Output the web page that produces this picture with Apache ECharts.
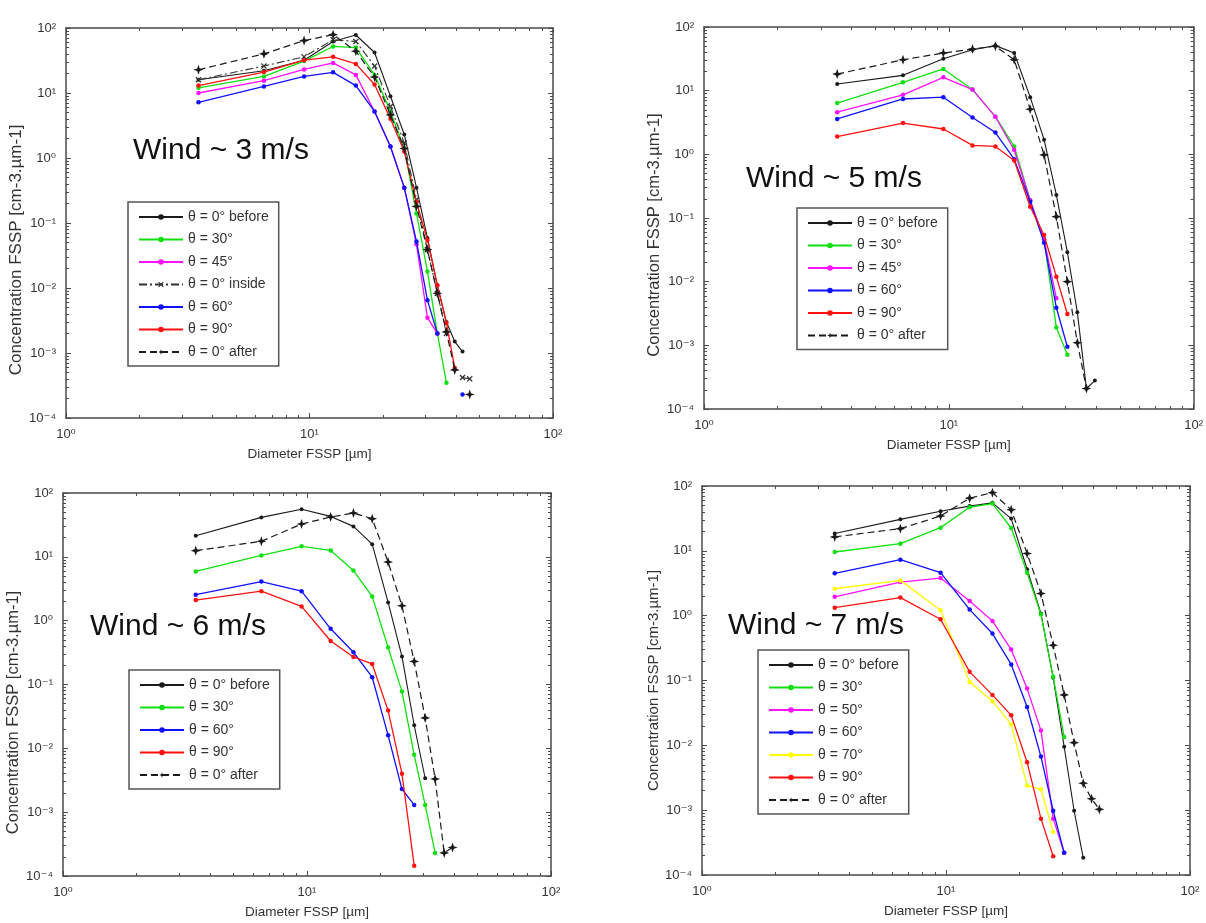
<!DOCTYPE html>
<html><head><meta charset="utf-8">
<script src="https://cdn.jsdelivr.net/npm/echarts@6/dist/echarts.min.js"></script>
<style>html,body{margin:0;padding:0;background:#fff;}#c{width:1206px;height:923px;}</style>
</head><body><div id="c"></div>
<script>
// ---------- DATA ----------
const diameters = [3.5, 6.5, 9.5, 12.5, 15.5, 18.5, 21.5, 24.5, 27.5, 30.5, 33.5, 36.5, 39.5, 42.5, 45.5];

const panelTitles = ['Wind ~ 3 m/s', 'Wind ~ 5 m/s', 'Wind ~ 6 m/s', 'Wind ~ 7 m/s'];
const xAxisName = 'Diameter FSSP [µm]';
const yAxisName = 'Concentration FSSP [cm-3.µm-1]';

// Wind ~ 3 m/s
const w3_before = [16, 22, 32, 62, 78, 42, 8.9, 2.3, 0.35, 0.059, 0.011, 0.003, 0.0015, 0.00105];
const w3_t30    = [12, 18, 31, 52, 50, 19, 5.2, 1.4, 0.14, 0.018, 0.002, 0.00035];
const w3_t45    = [10, 15.5, 23, 29, 19, 5.2, 1.5, 0.35, 0.047, 0.0035, 0.002];
const w3_inside = [16, 26, 36, 66, 62, 26, 6.2, 1.7, 0.23, 0.039, 0.0083, 0.002, null, 0.00042, 0.0004];
const w3_t60    = [7.2, 12.6, 18, 20.8, 13, 5.2, 1.5, 0.35, 0.052, 0.0065, 0.002, null, null, 0.00023];
const w3_t90    = [13, 21, 32, 36, 28, 13.5, 4.0, 1.26, 0.21, 0.055, 0.011, 0.0029, 0.00059];
const w3_after  = [22.8, 40, 64, 79, 44, 17.6, 4.6, 1.4, 0.18, 0.039, 0.0083, 0.0021, 0.00055, null, 0.00023];

// Wind ~ 5 m/s
const w5_before = [12.7, 17.4, 31.7, 44, 51, 39, 7.9, 1.7, 0.23, 0.029, 0.0033, 0.00021, 0.00028];
const w5_t30    = [6.4, 13.5, 21.9, 10.4, 3.9, 1.33, 0.19, 0.046, 0.0019, 0.00071];
const w5_t45    = [4.6, 8.6, 16.2, 10.4, 3.9, 1.17, 0.19, 0.046, 0.0055];
const w5_t60    = [3.6, 7.4, 7.9, 3.8, 2.2, 0.84, 0.18, 0.041, 0.0039, 0.00095];
const w5_t90    = [1.9, 3.1, 2.5, 1.38, 1.33, 0.80, 0.15, 0.054, 0.012, 0.0031];
const w5_after  = [18.2, 30.6, 39, 45, 50, 30.6, 5.1, 0.98, 0.105, 0.01, 0.0011, 0.00021];

// Wind ~ 6 m/s
const w6_before = [21.4, 41.5, 55.5, 43, 30, 15.8, 1.93, 0.275, 0.023, 0.0034];
const w6_t30    = [5.9, 10.5, 14.6, 12.6, 6.1, 2.4, 0.38, 0.078, 0.0079, 0.0013, 0.00023];
const w6_t60    = [2.55, 4.1, 2.9, 0.745, 0.32, 0.13, 0.016, 0.0023, 0.0013];
const w6_t90    = [2.1, 2.9, 1.67, 0.48, 0.27, 0.21, 0.039, 0.004, 0.000145];
const w6_after  = [12.5, 17.5, 32.7, 42, 48.5, 39.6, 8.3, 1.71, 0.23, 0.030, 0.0033, 0.00023, 0.00028];

// Wind ~ 7 m/s
const w7_before = [18.5, 30.6, 40.8, 49, 55, 31.4, 5.2, 1.08, 0.11, 0.0095, 0.00098, 0.000185];
const w7_t30    = [9.6, 12.9, 22.8, 47, 53.5, 22.5, 4.6, 1.04, 0.114, 0.0135];
const w7_t50    = [1.95, 3.3, 3.8, 1.69, 0.83, 0.30, 0.075, 0.017, 0.00074, 0.00022];
const w7_t60    = [4.5, 7.3, 4.6, 1.24, 0.53, 0.177, 0.039, 0.0067, 0.00098, 0.00022];
const w7_t70    = [2.6, 3.5, 1.21, 0.095, 0.048, 0.021, 0.0024, 0.0021, 0.00046];
const w7_t90    = [1.33, 1.9, 0.88, 0.136, 0.06, 0.029, 0.0055, 0.00074, 0.000195];
const w7_after  = [16.4, 22, 34.5, 65, 79, 43, 9.1, 2.2, 0.35, 0.06, 0.011, 0.0026, 0.0015, 0.00103];

const panelSeries = [
  [['before', 'θ = 0° before', w3_before], ['t30', 'θ = 30°', w3_t30], ['t45', 'θ = 45°', w3_t45],
   ['inside', 'θ = 0° inside', w3_inside], ['t60', 'θ = 60°', w3_t60], ['t90', 'θ = 90°', w3_t90],
   ['after', 'θ = 0° after', w3_after]],
  [['before', 'θ = 0° before', w5_before], ['t30', 'θ = 30°', w5_t30], ['t45', 'θ = 45°', w5_t45],
   ['t60', 'θ = 60°', w5_t60], ['t90', 'θ = 90°', w5_t90], ['after', 'θ = 0° after', w5_after]],
  [['before', 'θ = 0° before', w6_before], ['t30', 'θ = 30°', w6_t30], ['t60', 'θ = 60°', w6_t60],
   ['t90', 'θ = 90°', w6_t90], ['after', 'θ = 0° after', w6_after]],
  [['before', 'θ = 0° before', w7_before], ['t30', 'θ = 30°', w7_t30], ['t45', 'θ = 50°', w7_t50],
   ['t60', 'θ = 60°', w7_t60], ['t70', 'θ = 70°', w7_t70], ['t90', 'θ = 90°', w7_t90],
   ['after', 'θ = 0° after', w7_after]]
];

// ---------- LAYOUT / STYLE ----------
const FONT = "'Liberation Sans', Arial, 'DejaVu Sans', sans-serif";
const AXIS_C = '#4a4a4a';
const TEXT_C = '#333';
const STAR = 'path://M5,0 L6.3,3.7 L10,5 L6.3,6.3 L5,10 L3.7,6.3 L0,5 L3.7,3.7 Z';
const XMARK = 'path://M0,1.5 L1.5,0 L5,3.5 L8.5,0 L10,1.5 L6.5,5 L10,8.5 L8.5,10 L5,6.5 L1.5,10 L0,8.5 L3.5,5 Z';
const STYLE = {
  before: {color: '#1a1a1a', width: 1.1, type: 'solid', symbol: 'circle', size: 4},
  t30:    {color: '#10e010', width: 1.3, type: 'solid', symbol: 'circle', size: 4.5},
  t45:    {color: '#ff10ff', width: 1.3, type: 'solid', symbol: 'circle', size: 4.5},
  inside: {color: '#333333', width: 1.1, type: [8, 3, 2, 3], symbol: XMARK, size: 6},
  t60:    {color: '#1010ff', width: 1.3, type: 'solid', symbol: 'circle', size: 4.5},
  t70:    {color: '#ffff00', width: 1.3, type: 'solid', symbol: 'circle', size: 4.5},
  t90:    {color: '#ff1010', width: 1.3, type: 'solid', symbol: 'circle', size: 4.5},
  after:  {color: '#1a1a1a', width: 1.2, type: [7, 4], symbol: STAR, size: 10}
};
const LAYOUT = [
  {grid: {left: 66, top: 28, width: 487, height: 390}, legend: {left: 128, top: 202}, title: {left: 133, top: 136}, yShift: 54, yFont: 17},
  {grid: {left: 704, top: 27, width: 491, height: 382}, legend: {left: 797, top: 208}, title: {left: 746, top: 164}, yShift: 34, yFont: 16.5},
  {grid: {left: 63, top: 493, width: 488, height: 383}, legend: {left: 129, top: 670}, title: {left: 90, top: 612}, yShift: 56, yFont: 16.5},
  {grid: {left: 702, top: 486, width: 488, height: 389}, legend: {left: 758, top: 650}, title: {left: 728, top: 611}, yShift: 0, yFont: 15}
];

const SUP = {'0': '⁰', '1': '¹', '2': '²', '3': '³', '4': '⁴', '-': '⁻'};
function supFmt(v) {
  const e = String(Math.round(Math.log10(v)));
  return '10' + e.split('').map(c => SUP[c]).join('');
}

function axisCommon(extra) {
  return Object.assign({
    type: 'log', logBase: 10,
    axisLine: {show: true, onZero: false, lineStyle: {color: AXIS_C, width: 1.5}},
    axisTick: {show: true, inside: true, length: 5, lineStyle: {color: AXIS_C, width: 1}},
    minorTick: {show: true, splitNumber: 9, length: 3, lineStyle: {color: AXIS_C, width: 1}},
    splitLine: {show: false},
    minorSplitLine: {show: false}
  }, extra);
}

const grids = [], xAxes = [], yAxes = [], series = [], legends = [], titles = [];
LAYOUT.forEach((L, p) => {
  grids.push(Object.assign({containLabel: false}, L.grid));
  xAxes.push(axisCommon({
    gridIndex: p, position: 'bottom', min: 1, max: 100,
    name: xAxisName, nameLocation: 'middle', nameGap: 29,
    nameTextStyle: {fontSize: 13.5, color: TEXT_C, fontFamily: FONT},
    axisLabel: {formatter: supFmt, fontSize: 13, color: TEXT_C, fontFamily: FONT, margin: 10}
  }));
  xAxes.push(axisCommon({gridIndex: p, position: 'top', min: 1, max: 100, axisLabel: {show: false}}));
  yAxes.push(axisCommon({
    gridIndex: p, position: 'left', min: 0.0001, max: 100,
    name: yAxisName, nameLocation: 'middle', nameGap: 39,
    nameTextStyle: {fontSize: L.yFont, color: TEXT_C, fontFamily: FONT, padding: [0, L.yShift, 0, 0]},
    axisLabel: {formatter: supFmt, fontSize: 13, color: TEXT_C, fontFamily: FONT, margin: 10}
  }));
  yAxes.push(axisCommon({gridIndex: p, position: 'right', min: 0.0001, max: 100, axisLabel: {show: false}}));

  const names = [];
  panelSeries[p].forEach(([key, name, vals], k) => {
    const s = STYLE[key];
    names.push(name);
    series.push({
      type: 'line', name: name, xAxisIndex: 2 * p, yAxisIndex: 2 * p,
      data: vals.map((v, i) => [diameters[i], v]),
      symbol: s.symbol, symbolSize: s.size, showSymbol: true, connectNulls: false,
      lineStyle: {color: s.color, width: s.width, type: s.type},
      itemStyle: {color: s.color},
      emphasis: {disabled: true},
      z: 2 + k
    });
  });
  legends.push({
    orient: 'vertical', left: L.legend.left, top: L.legend.top, data: names,
    itemWidth: 44, itemHeight: 7, itemGap: 8.5,
    padding: [8, 10, 7, 10], borderColor: '#555', borderWidth: 1.5, backgroundColor: '#fff',
    textStyle: {fontSize: 14, color: TEXT_C, fontFamily: FONT},
    selectedMode: false
  });
  titles.push({
    text: panelTitles[p], left: L.title.left, top: L.title.top, padding: 0,
    textStyle: {fontSize: 30, fontWeight: 'normal', color: '#111', fontFamily: FONT}
  });
});

const chart = echarts.init(document.getElementById('c'), null, {renderer: 'canvas'});
chart.setOption({
  animation: false,
  backgroundColor: '#fff',
  title: titles,
  legend: legends,
  grid: grids,
  xAxis: xAxes,
  yAxis: yAxes,
  series: series
});
</script></body></html>
